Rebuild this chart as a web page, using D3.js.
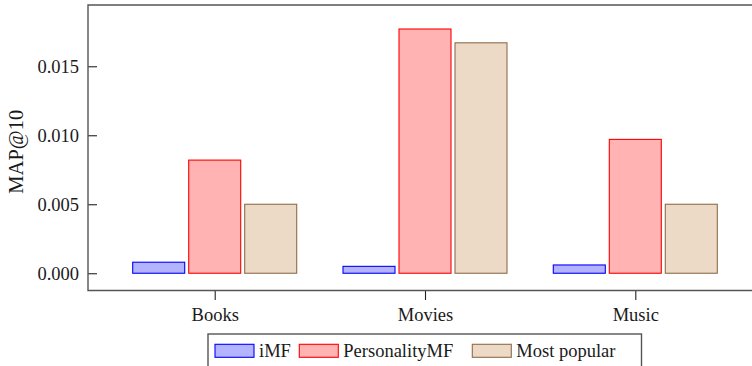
<!DOCTYPE html>
<html>
<head>
<meta charset="utf-8">
<script src="https://cdn.jsdelivr.net/npm/d3@7/dist/d3.min.js"></script>
<style>
  html, body { margin: 0; padding: 0; background: #fff; }
  svg { display: block; }
  text { font-family: "Liberation Serif", "Times New Roman", serif; fill: #1a1a1a; }
</style>
</head>
<body>
<svg id="chart" width="752" height="366"></svg>
<script>
// Data
const categories = ["Books", "Movies", "Music"];
const seriesNames = ["iMF", "PersonalityMF", "Most popular"];
const imfValues = [0.0008, 0.0005, 0.0006];
const personalityValues = [0.0082, 0.0177, 0.0097];
const popularValues = [0.0050, 0.0167, 0.0050];
const yTickValues = [0, 0.005, 0.010, 0.015];
const yLabel = "MAP@10";

const seriesValues = [imfValues, personalityValues, popularValues];
const fills = ["#b3b3ff", "#ffb3b3", "#ecd9c6"];
const strokes = ["#0000ff", "#ff0000", "#8f6d4b"];

const svg = d3.select("#chart");
const frame = { left: 88, top: 5, bottom: 290.5, right: 762 };

const x = d3.scalePoint().domain(categories).range([214.7, 635.3]);
const xInner = d3.scaleBand().domain(seriesNames).range([-84, 84])
  .paddingInner(4 / 56).paddingOuter(2 / 56);
const y = d3.scaleLinear().domain([-0.00125, 0.01944]).range([frame.bottom, frame.top]);

// Bars
seriesNames.forEach((name, si) => {
  svg.append("g").selectAll("rect")
    .data(categories.map((c, ci) => ({ c, v: seriesValues[si][ci] })))
    .join("rect")
    .attr("x", d => x(d.c) + xInner(name))
    .attr("width", xInner.bandwidth())
    .attr("y", d => y(d.v))
    .attr("height", d => y(0) - y(d.v))
    .attr("fill", fills[si])
    .attr("stroke", strokes[si])
    .attr("stroke-width", 1.1);
});

// Axes
const yAxis = d3.axisLeft(y).tickValues(yTickValues).tickFormat(d3.format(".3f"))
  .tickSizeInner(-9).tickSizeOuter(0).tickPadding(9);
const gy = svg.append("g").attr("transform", `translate(${frame.left},0)`).call(yAxis);
gy.select(".domain").remove();
gy.selectAll(".tick line").attr("stroke", "#222").attr("stroke-width", 1.1);
gy.selectAll(".tick text").attr("font-size", 18.5).attr("font-family", "Liberation Serif").attr("fill", "#1a1a1a");

const xAxis = d3.axisBottom(x).tickSizeInner(9.5).tickSizeOuter(0).tickPadding(8);
const gx = svg.append("g").attr("transform", `translate(0,${frame.bottom})`).call(xAxis);
gx.select(".domain").remove();
gx.selectAll(".tick line").attr("stroke", "#222").attr("stroke-width", 1.1);
gx.selectAll(".tick text").attr("font-size", 18.5).attr("font-family", "Liberation Serif").attr("fill", "#1a1a1a");

// Frame (left, top, bottom)
svg.append("path")
  .attr("d", `M${frame.right},${frame.top}H${frame.left}V${frame.bottom}H${frame.right}`)
  .attr("fill", "none").attr("stroke", "#555").attr("stroke-width", 1.4);

// Y label
svg.append("text")
  .attr("transform", `translate(23,${(frame.top + frame.bottom) / 2 + 4}) rotate(-90)`)
  .attr("text-anchor", "middle")
  .attr("font-size", 20.5)
  .text(yLabel);

// Legend
const legend = svg.append("g");
legend.append("rect")
  .attr("x", 208).attr("y", 334).attr("width", 433.5).attr("height", 60)
  .attr("fill", "#fff").attr("stroke", "#555").attr("stroke-width", 1.4);
const swatchX = [215, 299.3, 472.3];
seriesNames.forEach((name, i) => {
  legend.append("rect")
    .attr("x", swatchX[i]).attr("y", 344.3).attr("width", 39).attr("height", 13)
    .attr("fill", fills[i]).attr("stroke", strokes[i]).attr("stroke-width", 1.1);
  legend.append("text")
    .attr("x", swatchX[i] + 44).attr("y", 356.5)
    .attr("font-size", 18.5)
    .text(name);
});
</script>
</body>
</html>
